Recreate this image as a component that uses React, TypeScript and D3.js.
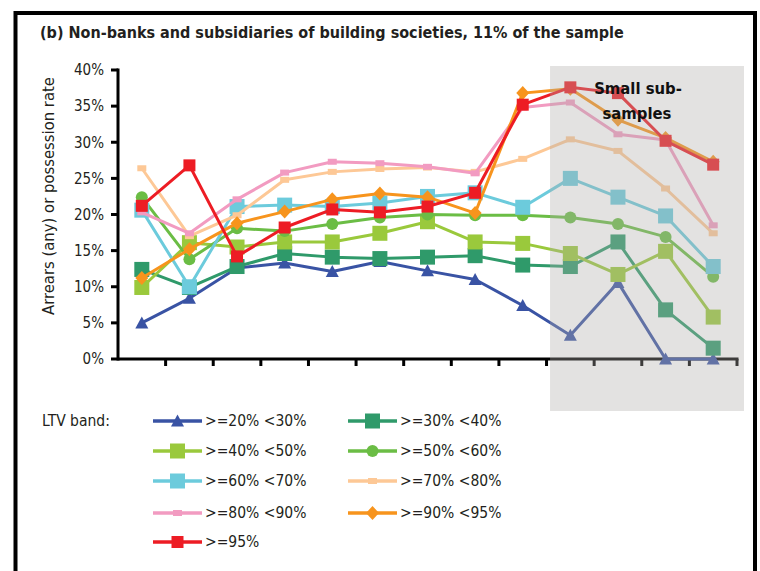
import React from "react";
import * as d3 from "d3";

const categories = ["1", "2", "3", "4", "5", "6", "7", "8", "9", "10", "11", "12", "13"];
const yTicks = [0, 0.05, 0.1, 0.15, 0.2, 0.25, 0.3, 0.35, 0.4];

const ltv20 = [5.0, 8.4, 12.6, 13.3, 12.1, 13.5, 12.2, 11.0, 7.4, 3.3, 10.6, 0, 0];
const ltv30 = [12.4, 9.9, 12.8, 14.6, 14.1, 13.9, 14.1, 14.3, 13.0, 12.8, 16.2, 6.8, 1.5];
const ltv40 = [9.9, 16.1, 15.5, 16.2, 16.2, 17.4, 19.0, 16.2, 16.0, 14.6, 11.7, 14.9, 5.8];
const ltv50 = [22.4, 13.8, 18.1, 17.7, 18.7, 19.6, 20.0, 19.9, 19.9, 19.6, 18.7, 16.9, 11.4];
const ltv60 = [20.6, 10.0, 21.1, 21.3, 21.1, 21.6, 22.5, 23.0, 21.0, 25.0, 22.4, 19.8, 12.8];
const ltv70 = [26.4, 17.0, 19.9, 24.8, 25.9, 26.3, 26.5, 25.9, 27.7, 30.4, 28.8, 23.6, 17.4];
const ltv80 = [20.3, 17.4, 22.1, 25.8, 27.3, 27.1, 26.6, 25.7, 34.8, 35.5, 31.1, 30.3, 18.5];
const ltv90 = [11.2, 15.2, 18.8, 20.4, 22.1, 22.9, 22.4, 20.2, 36.8, 37.4, 33.1, 30.6, 27.3];
const ltv95 = [21.2, 26.8, 14.2, 18.2, 20.7, 20.3, 21.1, 23.0, 35.2, 37.6, 36.8, 30.2, 26.9];

const seriesNames = [
  ">=20% <30%", ">=30% <40%", ">=40% <50%", ">=50% <60%", ">=60% <70%",
  ">=70% <80%", ">=80% <90%", ">=90% <95%", ">=95%",
];
const seriesValues = [ltv20, ltv30, ltv40, ltv50, ltv60, ltv70, ltv80, ltv90, ltv95];
const seriesColors = [
  "#3953a4", "#2f9a6a", "#9ac93c", "#6bbd45", "#6ccbdc",
  "#fdc896", "#f29bc1", "#f7941d", "#ed1c24",
];
const seriesMarkers = ["triangle", "bigsquare", "bigsquare", "circle", "bigsquare", "dash", "dash", "diamond", "square"];

const smallSampleStart = 9; // categories from index 9 onward are "small sub-samples"

const FONT = "'DejaVu Sans Condensed', 'DejaVu Sans', sans-serif";
const TXT = "#231f20";

function Marker({ kind, x, y, color }: { kind: string; x: number; y: number; color: string }) {
  if (kind === "triangle") {
    const p = d3.path();
    p.moveTo(x, y - 6.5);
    p.lineTo(x + 6.5, y + 5.5);
    p.lineTo(x - 6.5, y + 5.5);
    p.closePath();
    return <path d={p.toString()} fill={color} />;
  }
  if (kind === "bigsquare") return <rect x={x - 7.5} y={y - 7.5} width={15} height={15} fill={color} />;
  if (kind === "square") return <rect x={x - 6} y={y - 6} width={12} height={12} fill={color} />;
  if (kind === "circle") return <circle cx={x} cy={y} r={6} fill={color} />;
  if (kind === "diamond") {
    const p = d3.path();
    p.moveTo(x, y - 7);
    p.lineTo(x + 6.5, y);
    p.lineTo(x, y + 7);
    p.lineTo(x - 6.5, y);
    p.closePath();
    return <path d={p.toString()} fill={color} />;
  }
  // small dash marker
  return <rect x={x - 4.5} y={y - 3} width={9} height={6} fill={color} />;
}

export default function App() {
  const W = 760;
  const H = 571;
  const left = 118;
  const right = 737;
  const top = 70;
  const bottom = 359;

  const x = d3.scaleBand<string>().domain(categories).range([left, right]).padding(0);
  const y = d3.scaleLinear().domain([0, 0.4]).range([bottom, top]);
  const cx = (c: string) => (x(c) as number) + x.bandwidth() / 2;

  const line = d3
    .line<number>()
    .x((_, i) => cx(categories[i]))
    .y((v) => y(v / 100));

  const shadeX0 = (x(categories[smallSampleStart]) as number) + 3.5;
  const shadeX1 = right + 7;

  const legendRows = [421, 451, 481, 513, 542];
  const legendCols = [153, 348];

  return (
    <svg width={W} height={H} style={{ position: "absolute", left: 0, top: 0 }} fontFamily={FONT}>
      <rect x={0} y={0} width={W} height={H} fill="#fff" />
      <rect x={15.5} y={13} width={739.5} height={H} fill="none" stroke="#000" strokeWidth={4} />
      <text x={40} y={38} fontSize={16} fontWeight="bold" fill={TXT}>
        (b) Non-banks and subsidiaries of building societies, 11% of the sample
      </text>

      {/* y axis */}
      {yTicks.map((t) => (
        <g key={t}>
          <line x1={left - 7} x2={left} y1={y(t)} y2={y(t)} stroke="#000" strokeWidth={3} />
          <text x={104} y={y(t)} dy="0.35em" textAnchor="end" fontSize={15} fill={TXT}>
            {d3.format(".0%")(t)}
          </text>
        </g>
      ))}
      <line x1={left} x2={left} y1={top - 1.5} y2={bottom + 1.5} stroke="#000" strokeWidth={3} />
      <text
        transform={`translate(54,196) rotate(-90)`}
        textAnchor="middle"
        fontSize={16.5}
        fill={TXT}
      >
        Arrears (any) or possession rate
      </text>

      {/* x axis */}
      <line x1={left} x2={right + 1.5} y1={bottom} y2={bottom} stroke="#000" strokeWidth={3} />
      {categories.map((c) => (
        <line key={c} x1={(x(c) as number) + x.bandwidth()} x2={(x(c) as number) + x.bandwidth()} y1={bottom} y2={bottom + 7} stroke="#000" strokeWidth={3} />
      ))}

      {/* series */}
      {seriesValues.map((vals, si) => (
        <g key={si}>
          <path d={line(vals) as string} fill="none" stroke={seriesColors[si]} strokeWidth={3} strokeLinejoin="round" />
          {vals.map((v, i) => (
            <Marker key={i} kind={seriesMarkers[si]} x={cx(categories[i])} y={y(v / 100)} color={seriesColors[si]} />
          ))}
        </g>
      ))}

      {/* small sub-sample shading */}
      <rect x={shadeX0} y={66} width={shadeX1 - shadeX0} height={345} fill="#aeacaa" fillOpacity={0.35} />
      <text x={638} y={94} textAnchor="middle" fontSize={16.5} fontWeight="bold" fill="#111">Small sub-</text>
      <text x={637} y={119} textAnchor="middle" fontSize={16.5} fontWeight="bold" fill="#111">samples</text>

      {/* legend */}
      <text x={42} y={legendRows[0]} dy="0.35em" fontSize={15.5} fill={TXT}>LTV band:</text>
      {seriesNames.map((name, i) => {
        const row = Math.floor(i / 2);
        const col = i % 2;
        const lx = legendCols[col];
        const ly = legendRows[row];
        return (
          <g key={name}>
            <line x1={lx} x2={lx + 49} y1={ly} y2={ly} stroke={seriesColors[i]} strokeWidth={3.5} />
            <Marker kind={seriesMarkers[i]} x={lx + 24.5} y={ly} color={seriesColors[i]} />
            <text x={lx + 52} y={ly} dy="0.35em" fontSize={15.5} fill={TXT}>{name}</text>
          </g>
        );
      })}
    </svg>
  );
}
